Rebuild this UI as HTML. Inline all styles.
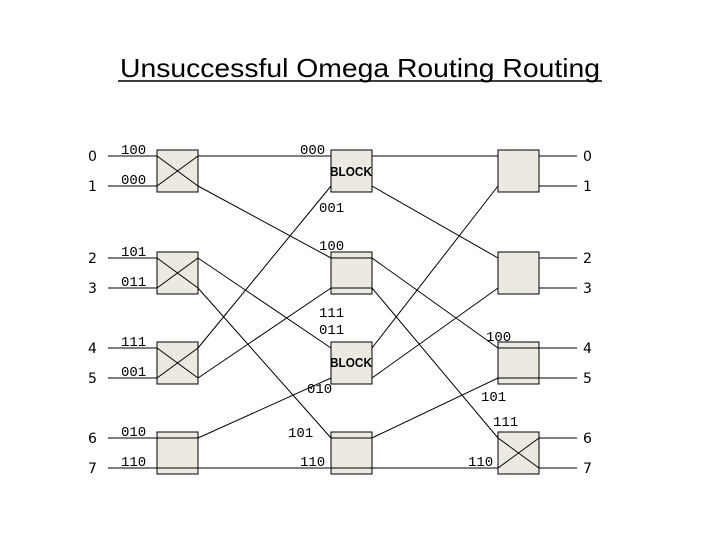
<!DOCTYPE html>
<html><head><style>body{margin:0;background:#fff}svg{display:block}</style></head><body>
<svg width="720" height="540" xmlns="http://www.w3.org/2000/svg" font-family="Liberation Sans, sans-serif">
<text x="360" y="77" text-anchor="middle" font-size="26" fill="#000" textLength="480" lengthAdjust="spacingAndGlyphs">Unsuccessful Omega Routing Routing</text>
<line x1="118" y1="81" x2="602" y2="81" stroke="#000" stroke-width="1.5"/>
<g fill="#ece9e0" stroke="#000" stroke-width="1">
<rect x="157" y="150" width="41" height="42"/><rect x="157" y="252" width="41" height="42"/><rect x="157" y="342" width="41" height="42"/><rect x="157" y="432" width="41" height="42"/>
<rect x="331" y="150" width="41" height="42"/><rect x="331" y="252" width="41" height="42"/><rect x="331" y="342" width="41" height="42"/><rect x="331" y="432" width="41" height="42"/>
<rect x="498" y="150" width="41" height="42"/><rect x="498" y="252" width="41" height="42"/><rect x="498" y="342" width="41" height="42"/><rect x="498" y="432" width="41" height="42"/>
</g>
<g stroke="#000" stroke-width="1" fill="none">
<path d="M108 156H157M108 186H157M108 258H157M108 288H157M108 348H157M108 378H157M108 438H198M108 468H498"/>
<path d="M157 156L198 186M157 186L198 156M157 258L198 288M157 288L198 258M157 348L198 378M157 378L198 348"/>
<path d="M198 156H331M198 186L331 258M198 258L331 348M198 288L331 438M198 348L331 186M198 378L331 288M198 438L331 378"/>
<path d="M331 258H372M331 288H372M331 438H372"/>
<path d="M372 156H498M372 186L498 258M372 258L498 348M372 288L498 438M372 348L498 186M372 378L498 288M372 438L498 378"/>
<path d="M498 348H539M498 378H539M498 438L539 468M498 468L539 438"/>
<path d="M539 156H577M539 186H577M539 258H577M539 288H577M539 348H577M539 378H577M539 438H577M539 468H577"/>
</g>
<g font-size="14" fill="#000" font-family="DejaVu Sans, sans-serif">
<text x="88" y="161">0</text><text x="88" y="191">1</text><text x="88" y="263">2</text><text x="88" y="293">3</text><text x="88" y="353">4</text><text x="88" y="383">5</text><text x="88" y="443">6</text><text x="88" y="473">7</text>
<text x="583" y="161">0</text><text x="583" y="191">1</text><text x="583" y="263">2</text><text x="583" y="293">3</text><text x="583" y="353">4</text><text x="583" y="383">5</text><text x="583" y="443">6</text><text x="583" y="473">7</text>
</g>
<g font-size="14" fill="#000" font-family="Liberation Mono, monospace">
<text x="121" y="154">100</text><text x="121" y="184">000</text><text x="121" y="256">101</text><text x="121" y="286">011</text><text x="121" y="346">111</text><text x="121" y="376">001</text><text x="121" y="436">010</text><text x="121" y="466">110</text>
<text x="300" y="154">000</text><text x="319" y="212">001</text><text x="319" y="250">100</text><text x="319" y="317">111</text><text x="319" y="334">011</text><text x="307" y="393">010</text><text x="288" y="437">101</text><text x="300" y="466">110</text>
<text x="486" y="341">100</text><text x="481" y="401">101</text><text x="493" y="426">111</text><text x="468" y="466">110</text>
</g>
<g font-size="13" font-weight="bold" fill="#000" font-family="Liberation Sans, sans-serif">
<text x="330" y="176" textLength="42" lengthAdjust="spacingAndGlyphs">BLOCK</text><text x="330" y="367" textLength="42" lengthAdjust="spacingAndGlyphs">BLOCK</text>
</g>
</svg>
</body></html>
